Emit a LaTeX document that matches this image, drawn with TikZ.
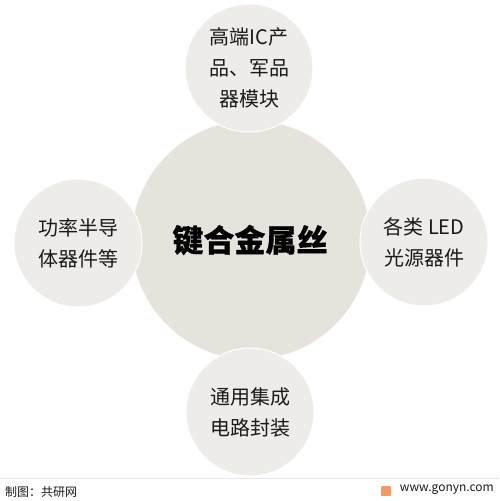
\documentclass[tikz,border=0pt]{standalone}
\usepackage{fontspec}
\newfontfamily\cjk{Noto Sans CJK SC}
\newfontfamily\cjkheavy[BoldFeatures={FakeBold=0.7}]{Noto Sans CJK SC}
\setmainfont{Noto Sans CJK SC}
\definecolor{bigc}{HTML}{E6E3DC}
\definecolor{smallc}{HTML}{EEECE8}
\definecolor{txt}{HTML}{1A1A1A}
\definecolor{logoc}{HTML}{F2996A}
\tikzset{
  bigcircle/.style={circle, fill=bigc, draw=white, line width=1pt, minimum size=240pt, inner sep=0pt},
  smallcircle/.style={circle, fill=smallc, draw=white, line width=1pt, minimum size=128pt, inner sep=0pt, align=center, font=\cjk\fontsize{20}{31}\selectfont, text=txt},
  foot/.style={font=\cjk\fontsize{12}{14}\selectfont, text=txt, inner sep=0pt}
}
\begin{document}
\begin{tikzpicture}[x=1pt,y=-1pt]
\useasboundingbox[fill=white] (0,0) rectangle (499,501);
\node[bigcircle] (center) at (251,240) {};
\node[smallcircle] (left) at (78,243) {功率半导\\体器件等};
\node[smallcircle] (right) at (424,242) {各类 LED\\光源器件};
\node[smallcircle] (top) at (249,68) {高端IC产\\品、军品\\器模块};
\node[smallcircle] (bottom) at (250,412) {通用集成\\电路封装};
\node[font=\cjkheavy\bfseries\fontsize{31}{34}\selectfont, text=black] (title) at (250,240) {键合金属丝};
\draw[gray!20, line width=0.6pt] (0,478) -- (499,478);
\node[foot, anchor=west] (src) at (5,492) {制图：共研网};
\node[foot, anchor=east, font=\cjk\fontsize{12}{14}\selectfont] (web) at (494,490) {www.gonyn.com};
\node[fill=logoc, rounded corners=1pt, minimum width=10pt, minimum height=10pt, inner sep=0pt] (logo) at (386,491) {};
\end{tikzpicture}
\end{document}
